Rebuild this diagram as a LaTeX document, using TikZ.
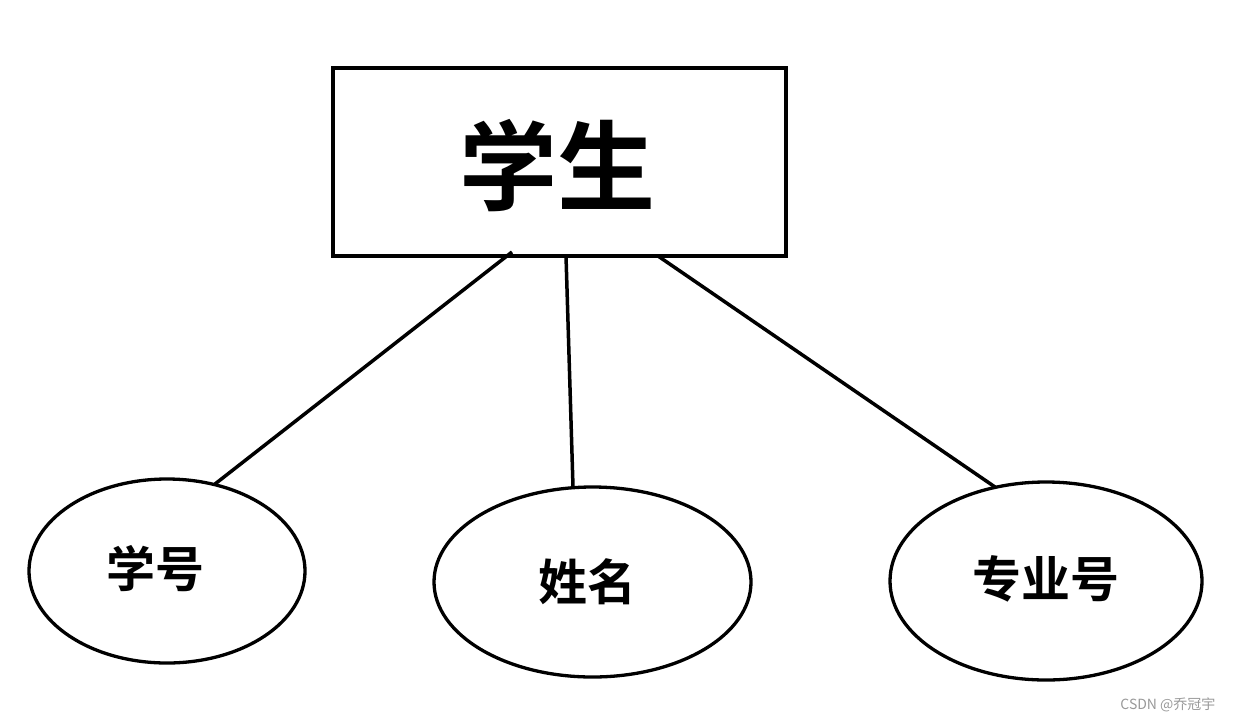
\documentclass[tikz,border=0pt]{standalone}
\usepackage{fontspec}
\newfontfamily\cjk{Noto Sans CJK SC}
\newfontfamily\cjkb{Noto Sans CJK SC Bold}
\usetikzlibrary{shapes.geometric}
\begin{document}
\begin{tikzpicture}[x=1pt,y=-1pt,
  entbox/.style={draw,line width=3.5pt,minimum width=453pt,minimum height=188pt,inner sep=0pt},
  attr/.style={draw,ellipse,line width=3.3pt,inner sep=0pt},
  link/.style={line width=3.5pt}]
\useasboundingbox (0,0) rectangle (1233,723);
\node[entbox] (box) at (559.5,162) {};
\node at (557,166) {\cjkb\fontsize{98}{98}\selectfont 学生};
\node[attr,minimum width=276pt,minimum height=184pt] (e1) at (167,571) {};
\node at (155,569) {\cjkb\fontsize{49}{49}\selectfont 学号};
\node[attr,minimum width=317pt,minimum height=190pt] (e2) at (592.5,582) {};
\node at (587,582) {\cjkb\fontsize{49}{49}\selectfont 姓名};
\node[attr,minimum width=312pt,minimum height=198pt] (e3) at (1046,581) {};
\node at (1046,579) {\cjkb\fontsize{49}{49}\selectfont 专业号};
\coordinate (a1) at (512,252);
\coordinate (a2) at (566,256);
\coordinate (a3) at (658,256);
\coordinate (b1) at (215,484);
\coordinate (b2) at (573,487);
\coordinate (b3) at (995,487);
\draw[link] (a1) -- (b1);
\draw[link] (a2) -- (b2);
\draw[link] (a3) -- (b3);
\node[text=gray!80,anchor=east] (wm) at (1219,705) {\cjk\fontsize{14}{14}\selectfont CSDN @乔冠宇};
\end{tikzpicture}
\end{document}
